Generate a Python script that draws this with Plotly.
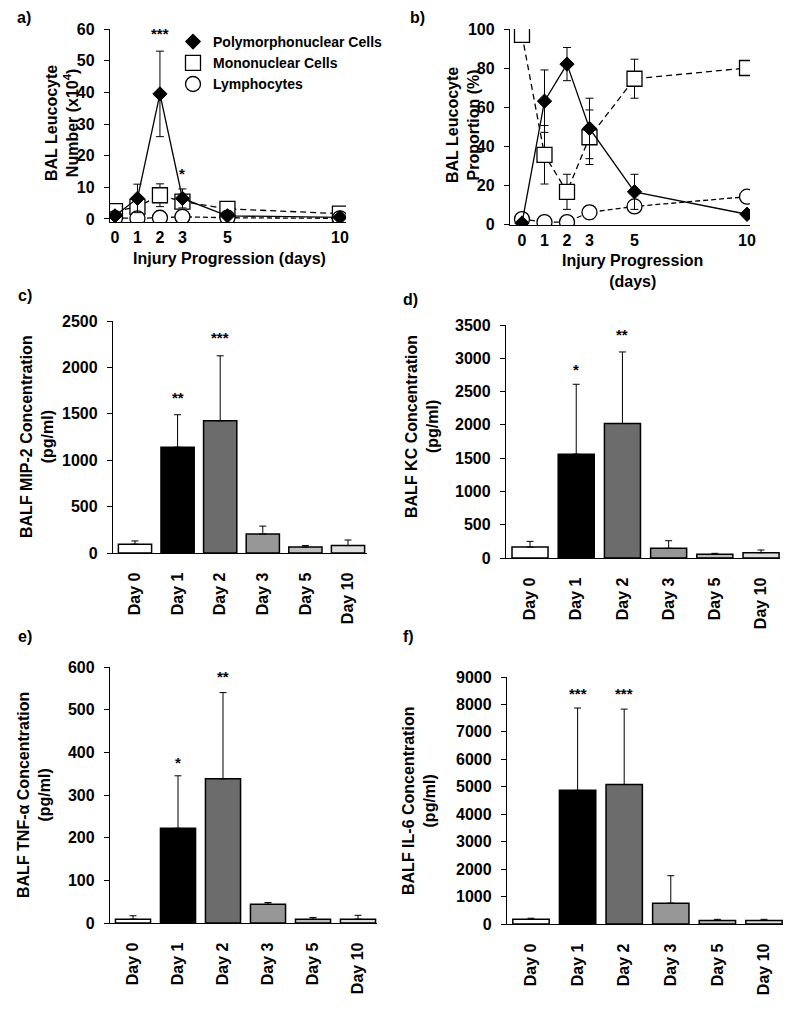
import plotly.graph_objects as go

# The page body adds an 8px margin; the figure is sized and positioned so that
# reference pixel p lands at page pixel p.
OFF = 8
W, H = 800 - OFF, 1029 - OFF
FONT = "Liberation Sans, Arial, sans-serif"

# ---------------- data ----------------
days = [0, 1, 2, 3, 5, 10]
day_labels = ["0", "1", "2", "3", "5", "10"]
series_names = ["Polymorphonuclear Cells", "Mononuclear Cells", "Lymphocytes"]

# panel a: BAL leucocyte number (x10^4)
a_pmn = [1.0, 6.5, 39.5, 6.5, 1.0, 0.5]
a_pmn_err = [0.3, 4.5, 13.5, 3.0, 0.3, 0.2]
a_mn = [2.5, 3.8, 7.5, 5.5, 3.2, 1.7]
a_mn_err = [0.4, 0.8, 3.6, 1.2, 0.5, 0.3]
a_ly = [0.3, 0.2, 0.4, 0.7, 0.4, 0.2]
a_ly_err = [0.1, 0.1, 0.1, 0.2, 0.1, 0.1]
a_sig = {2: "***", 3: "*"}
a_sig_y = {2: 58.5, 3: 14.5}

# panel b: BAL leucocyte proportion (%)
b_pmn = [0.5, 63, 82, 49, 16.5, 5]
b_pmn_err = [0.5, 16, 8.5, 15.5, 9, 1]
b_mn = [97, 35.5, 16.5, 44.5, 74.5, 80]
b_mn_err = [1, 15, 9, 14, 10, 1]
b_ly = [2.5, 1, 1, 6, 9, 14]
b_ly_err = [0.5, 0.5, 0.5, 3.5, 1, 3]

# bar panels
bar_cats = ["Day 0", "Day 1", "Day 2", "Day 3", "Day 5", "Day 10"]
bar_colors = ["#ffffff", "#000000", "#6c6c6c", "#979797", "#bdbdbd", "#dedede"]

c_vals = [95, 1140, 1425, 205, 65, 80]
c_err = [35, 350, 700, 85, 15, 60]
c_sig = ["", "**", "***", "", "", ""]
c_sig_y = [0, 1680, 2320, 0, 0, 0]

d_vals = [165, 1560, 2020, 145, 55, 80]
d_err = [85, 1050, 1075, 115, 15, 40]
d_sig = ["", "*", "**", "", "", ""]
d_sig_y = [0, 2830, 3350, 0, 0, 0]

e_vals = [9, 222, 338, 44, 9, 9]
e_err = [8, 123, 202, 4, 4, 9]
e_sig = ["", "*", "**", "", "", ""]
e_sig_y = [0, 377, 578, 0, 0, 0]

f_vals = [170, 4870, 5080, 760, 130, 130]
f_err = [40, 3000, 2750, 1000, 40, 40]
f_sig = ["", "***", "***", "", "", ""]
f_sig_y = [0, 8400, 8400, 0, 0, 0]


def px_x(p):
    return (p - OFF) / W


def px_y(p):
    return 1 - (p - OFF) / H


fig = go.Figure()
ann = []

# ---------------- line panels ----------------
def line_panel(xa, ya, pmn, pmn_e, mn, mn_e, ly, ly_e):
    common = dict(xaxis=xa, yaxis=ya, showlegend=False, mode="lines+markers")
    fig.add_trace(go.Scatter(x=days, y=mn, **common,
                             line=dict(color="black", width=1.3, dash="6px,4px"),
                             marker=dict(symbol="square", size=15, color="white",
                                         line=dict(color="black", width=1.3)),
                             error_y=dict(type="data", array=mn_e, color="black",
                                          thickness=1, width=4)))
    fig.add_trace(go.Scatter(x=days, y=ly, **common,
                             line=dict(color="black", width=1.3, dash="5px,3px"),
                             marker=dict(symbol="circle", size=15, color="white",
                                         line=dict(color="black", width=1.3)),
                             error_y=dict(type="data", array=ly_e, color="black",
                                          thickness=1, width=4)))
    fig.add_trace(go.Scatter(x=days, y=pmn, **common,
                             line=dict(color="black", width=1.3),
                             marker=dict(symbol="diamond", size=11, color="black",
                                         line=dict(color="black", width=1)),
                             error_y=dict(type="data", array=pmn_e, color="black",
                                          thickness=1, width=4)))


line_panel("x", "y", a_pmn, a_pmn_err, a_mn, a_mn_err, a_ly, a_ly_err)
line_panel("x2", "y2", b_pmn, b_pmn_err, b_mn, b_mn_err, b_ly, b_ly_err)

# legend-only entries (marker symbols only)
for name, sym, size, col in zip(series_names, ["diamond", "square", "circle"],
                                [11, 15, 15], ["black", "white", "white"]):
    fig.add_trace(go.Scatter(x=[None], y=[None], mode="markers", name=name,
                             xaxis="x", yaxis="y",
                             marker=dict(symbol=sym, size=size, color=col,
                                         line=dict(color="black", width=1.3))))

for k, t in a_sig.items():
    ann.append(dict(x=k, y=a_sig_y[k], xref="x", yref="y", text=t, showarrow=False,
                    font=dict(size=15, color="black", family=FONT, weight="bold")))

# ---------------- bar panels ----------------
bar_specs = [
    ("x3", "y3", c_vals, c_err, c_sig, c_sig_y),
    ("x4", "y4", d_vals, d_err, d_sig, d_sig_y),
    ("x5", "y5", e_vals, e_err, e_sig, e_sig_y),
    ("x6", "y6", f_vals, f_err, f_sig, f_sig_y),
]
for xa, ya, vals, errs, sig, sigy in bar_specs:
    fig.add_trace(go.Bar(x=bar_cats, y=vals, xaxis=xa, yaxis=ya, width=0.78,
                         showlegend=False,
                         marker=dict(color=bar_colors, line=dict(color="black", width=1.5)),
                         error_y=dict(type="data", symmetric=False, array=errs,
                                      arrayminus=[0] * len(errs), color="black",
                                      thickness=1, width=3.5)))
    for cat, s, sy in zip(bar_cats, sig, sigy):
        if s:
            ann.append(dict(x=cat, y=sy, xref=xa, yref=ya, text=s, showarrow=False,
                            font=dict(size=15, color="black", family=FONT, weight="bold")))

# ---------------- axes ----------------
tickfont = dict(size=16, color="black", family=FONT, weight="bold")


def yaxis(dom_px, rng, dtick):
    return dict(domain=[px_y(dom_px[1]), px_y(dom_px[0])], range=rng, dtick=dtick,
                showline=True, linecolor="black", linewidth=1.3, ticks="outside",
                ticklen=5, tickcolor="black", tickwidth=1.3, showgrid=False,
                zeroline=False, tickfont=tickfont, ticklabelstandoff=6,
                automargin=False)


def xaxis_line(dom_px, rng, anchor):
    return dict(domain=[px_x(dom_px[0]), px_x(dom_px[1])], range=rng, anchor=anchor,
                tickvals=days, ticktext=day_labels, showline=True, linecolor="black",
                linewidth=1.3, ticks="", showgrid=False, zeroline=False,
                tickfont=tickfont, ticklabelstandoff=1, automargin=False)


def xaxis_bar(dom_px, rng, anchor):
    return dict(domain=[px_x(dom_px[0]), px_x(dom_px[1])], range=rng, anchor=anchor,
                type="category", showline=True, linecolor="black", linewidth=1.3,
                ticks="", showgrid=False, zeroline=False, tickangle=-90,
                tickfont=tickfont, ticklabelstandoff=12, automargin=False)


layout_axes = dict(
    xaxis=xaxis_line([110, 346], [-0.22, 10.27], "y"),
    yaxis=yaxis([29, 222], [-0.95, 60], 10),
    xaxis2=xaxis_line([510, 750], [-0.533, 10.133], "y2"),
    yaxis2=yaxis([29, 225], [-0.51, 100], 20),
    xaxis3=xaxis_bar([113, 367], [-0.516, 5.446], "y3"),
    yaxis3=yaxis([321, 553], [0, 2500], 500),
    xaxis4=xaxis_bar([506, 780], [-0.52, 5.41], "y4"),
    yaxis4=yaxis([325, 558], [0, 3500], 500),
    xaxis5=xaxis_bar([110, 377], [-0.511, 5.422], "y5"),
    yaxis5=yaxis([667, 923], [0, 600], 100),
    xaxis6=xaxis_bar([507, 783], [-0.515, 5.408], "y6"),
    yaxis6=yaxis([677, 924], [0, 9000], 1000),
)
for i in range(2, 7):
    layout_axes[f"yaxis{i}"]["anchor"] = f"x{i}"
layout_axes["yaxis"]["anchor"] = "x"

# ---------------- text annotations ----------------
def paper_text(x, y, text, angle=0, size=16):
    ann.append(dict(x=px_x(x), y=px_y(y), xref="paper", yref="paper", text=text,
                    showarrow=False, textangle=angle, xanchor="center", yanchor="middle",
                    font=dict(size=size, color="black", family=FONT, weight="bold")))


# panel labels
paper_text(24, 18, "a)")
paper_text(417, 18, "b)")
paper_text(25, 296, "c)")
paper_text(410, 299, "d)")
paper_text(25, 636, "e)")
paper_text(408, 636, "f)")

# y titles
paper_text(62, 123, "BAL Leucocyte<br>Number (x10<sup>4</sup>)", -90)
paper_text(463, 125, "BAL Leucocyte<br>Proportion (%)", -90)
paper_text(37, 437, "BALF MIP-2 Concentration<br>(pg/ml)", -90)
paper_text(422, 427, "BALF KC Concentration<br>(pg/ml)", -90)
paper_text(34, 795, "BALF TNF-α Concentration<br>(pg/ml)", -90)
paper_text(419, 801, "BALF IL-6 Concentration<br>(pg/ml)", -90)

# x titles
paper_text(229, 258, "Injury Progression (days)")
paper_text(632, 271, "Injury Progression<br>(days)")

fig.update_layout(
    width=W, height=H, margin=dict(l=0, r=0, t=0, b=0, autoexpand=False),
    paper_bgcolor="white", plot_bgcolor="white",
    font=dict(family=FONT, color="black"),
    showlegend=True,
    legend=dict(x=px_x(173), y=px_y(26), xanchor="left", yanchor="top",
                bgcolor="rgba(0,0,0,0)", tracegroupgap=0,
                font=dict(size=14, color="black", family=FONT, weight="bold")),
    annotations=ann,
    **layout_axes,
)

fig.write_html("out.html")
